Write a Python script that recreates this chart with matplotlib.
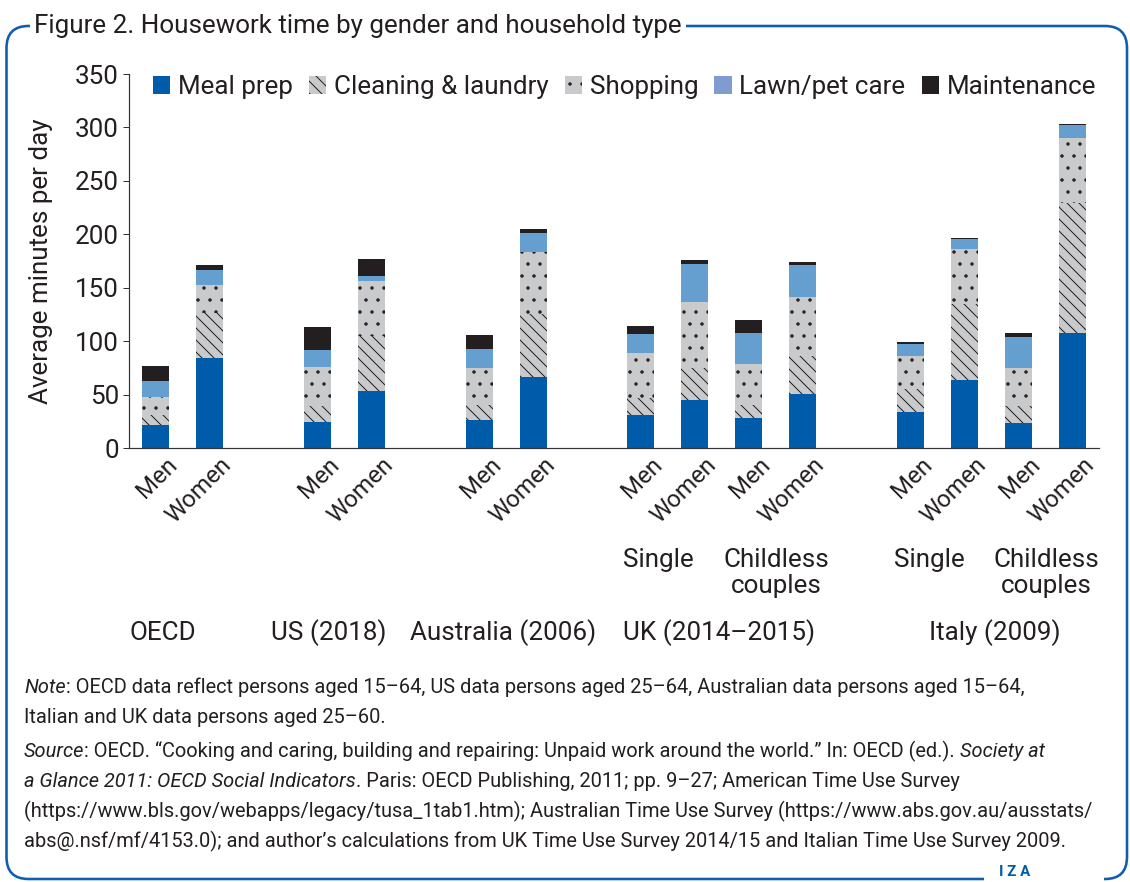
import matplotlib
matplotlib.use("Agg")
import matplotlib.pyplot as plt
from matplotlib.patches import Patch, FancyBboxPatch, Rectangle
from matplotlib.transforms import IdentityTransform
from matplotlib import font_manager
import numpy as np

# ---------------- data ----------------
bar_labels = ["Men", "Women", "Men", "Women", "Men", "Women",
              "Men", "Women", "Men", "Women",
              "Men", "Women", "Men", "Women"]
group_names = ["OECD", "US (2018)", "Australia (2006)", "UK (2014\u20132015)", "Italy (2009)"]
group_sizes = [2, 2, 2, 4, 4]
sub_labels = ["Single", "Childless\ncouples", "Single", "Childless\ncouples"]

series_names = ["Meal prep", "Cleaning & laundry", "Shopping", "Lawn/pet care", "Maintenance"]
meal_prep   = [21.5, 84, 24, 53, 26.5, 66, 31, 45, 28.5, 51, 34, 64, 23, 108]
cleaning    = [9.5, 42, 15, 52, 13.5, 59, 16, 30, 12, 35, 21.5, 70.5, 16, 121]
shopping    = [17, 27, 37, 51, 34.5, 58, 42, 61.5, 38, 55, 31, 51.5, 35.5, 61]
lawn_pet    = [15, 14, 15.5, 4.5, 18.5, 18, 18, 35.5, 29, 30, 10.5, 9.5, 29, 12]
maintenance = [14, 4, 21.5, 16, 13, 3.5, 7.5, 3.5, 12, 3.5, 2.5, 1, 4.5, 1]
yticks = [0, 50, 100, 150, 200, 250, 300, 350]

# ---------------- style ----------------
W, H, DPI = 1130, 882, 72

def pick_font(names):
    for n in names:
        try:
            font_manager.findfont(n, fallback_to_default=False)
            return n
        except Exception:
            pass
    return "DejaVu Sans"

FONT = pick_font(["Roboto", "Liberation Sans", "DejaVu Sans"])
plt.rcParams["font.family"] = [FONT, "DejaVu Sans"]
plt.rcParams["hatch.linewidth"] = 1.0
TXT = "#231f20"
BLUE = "#005baa"
GRAY = "#c9cacc"
LAWN = "#659fd0"
LAWN_LEG = "#7f9bd0"
BLACK = "#231f20"
FRAME = "#0f5fae"

fig = plt.figure(figsize=(W / DPI, H / DPI), dpi=DPI)
renderer = fig.canvas.get_renderer()

def fx(px):
    return px / W

def fy(py):
    return 1 - py / H

ax_left, ax_right, ax_top, ax_bottom = 129, 1099, 74, 448
ax = fig.add_axes([fx(ax_left), fy(ax_bottom), (ax_right - ax_left) / W, (ax_bottom - ax_top) / H])
ax.set_facecolor("none")

# bar positions from group structure (one empty slot between groups)
pos = []
start = 0
for g in group_sizes:
    pos.extend(range(start, start + g))
    start += g + 1
pos = np.array(pos, dtype=float)

styles = [
    dict(color=BLUE, edgecolor=BLUE, hatch=None),
    dict(color=GRAY, edgecolor=BLACK, hatch="\\\\"),
    dict(color=GRAY, edgecolor=BLACK, hatch="."),
    dict(color=LAWN, edgecolor=LAWN, hatch=None),
    dict(color=BLACK, edgecolor=BLACK, hatch=None),
]
values = [meal_prep, cleaning, shopping, lawn_pet, maintenance]
bottom = np.zeros(len(pos))
for name, vals, st in zip(series_names, values, styles):
    vals = np.array(vals, dtype=float)
    ax.bar(pos, vals, width=0.5, bottom=bottom, color=st["color"], edgecolor=st["edgecolor"],
           hatch=st["hatch"], linewidth=0, label=name, zorder=2)
    bottom += vals

ax.set_xlim(-0.5, start - 1 - 0.5)
ax.set_ylim(0, 350)
ax.set_yticks(yticks)
ax.tick_params(axis="y", labelsize=26, length=6, width=1, color="#333333", labelcolor=TXT, pad=4)
ax.set_xticks([])
for s in ["top", "right"]:
    ax.spines[s].set_visible(False)
for s in ["left", "bottom"]:
    ax.spines[s].set_color("#333333")
    ax.spines[s].set_linewidth(1.2)

fig.text(fx(41), fy(261), "Average minutes per day", rotation=90, ha="center", va="center",
         fontsize=26, color=TXT)

# rotated category labels
for x, lab in zip(pos, bar_labels):
    ax.annotate(lab, xy=(x, 0), xycoords=("data", "axes fraction"), xytext=(10, -5),
                textcoords="offset points", rotation=45, rotation_mode="anchor",
                ha="right", va="top", fontsize=24, color=TXT)

# sub-group labels (UK and Italy)
sub_x = [9.32, 11.52, 14.36, 16.52]
for x, lab in zip(sub_x, sub_labels):
    ax.annotate(lab, xy=(x, 0), xycoords=("data", "axes fraction"), xytext=(0, -(562 - 448) + 14),
                textcoords="offset points", ha="center", va="top", fontsize=26, color=TXT,
                linespacing=1.12)

grp_x = [0.13, 3.21, 6.44, 10.45, 15.57]
for x, lab in zip(grp_x, group_names):
    ax.annotate(lab, xy=(x, 0), xycoords=("data", "axes fraction"), xytext=(0, -(633 - 448)),
                textcoords="offset points", ha="center", va="center", fontsize=26, color=TXT)

# legend
handles = [
    Patch(facecolor=BLUE, edgecolor=BLUE, linewidth=0),
    Patch(facecolor=GRAY, edgecolor=BLACK, hatch="\\\\", linewidth=0),
    Patch(facecolor=GRAY, edgecolor=BLACK, hatch=".", linewidth=0),
    Patch(facecolor=LAWN_LEG, edgecolor=LAWN_LEG, linewidth=0),
    Patch(facecolor=BLACK, edgecolor=BLACK, linewidth=0),
]
leg = fig.legend(handles, series_names, loc="center left", bbox_to_anchor=(fx(153), fy(87)),
                 ncol=5, frameon=False, fontsize=26, handlelength=0.66, handleheight=0.66,
                 handletextpad=0.3, columnspacing=0.62, borderpad=0, borderaxespad=0)
for t in leg.get_texts():
    t.set_color(TXT)

# ---------------- frame, title, notes ----------------
frame = FancyBboxPatch((6.5, H - 879), 1127 - 6.5, 879 - 26,
                       boxstyle="round,pad=0,rounding_size=22", transform=IdentityTransform(),
                       facecolor="none", edgecolor=FRAME, linewidth=2.6, zorder=0.5)
fig.patches.append(frame)
fig.patches.append(Rectangle((984, H - 890), 1104 - 984, 20, transform=IdentityTransform(),
                             facecolor="white", edgecolor="none", zorder=1))

fig.text(fx(34), fy(26), "Figure 2. Housework time by gender and household type", ha="left",
         va="center", fontsize=26, color=TXT,
         bbox=dict(facecolor="white", edgecolor="none", pad=4), zorder=3)

fig.text(fx(1015), fy(872), "I Z A", ha="center", va="center", fontsize=15, color=BLUE,
         fontweight="bold", zorder=3)


def seg_width(s, **kw):
    t1 = fig.text(0, 0, "|" + s + "|", **kw)
    w1 = t1.get_window_extent(renderer).width
    t1.remove()
    t2 = fig.text(0, 0, "||", **kw)
    w2 = t2.get_window_extent(renderer).width
    t2.remove()
    return w1 - w2

NOTE_FS = 20
note_lines = [
    (686, [("Note", "italic"), (": OECD data reflect persons aged 15\u201364, US data persons aged 25\u201364, Australian data persons aged 15\u201364,", "normal")]),
    (716, [("Italian and UK data persons aged 25\u201360.", "normal")]),
    (750, [("Source", "italic"), (": OECD. \u201cCooking and caring, building and repairing: Unpaid work around the world.\u201d In: OECD (ed.). ", "normal"), ("Society at", "italic")]),
    (780, [("a Glance 2011: OECD Social Indicators", "italic"), (". Paris: OECD Publishing, 2011; pp. 9\u201327; American Time Use Survey", "normal")]),
    (810, [("(https://www.bls.gov/webapps/legacy/tusa_1tab1.htm); Australian Time Use Survey (https://www.abs.gov.au/ausstats/", "normal")]),
    (840, [("abs@.nsf/mf/4153.0); and author\u2019s calculations from UK Time Use Survey 2014/15 and Italian Time Use Survey 2009.", "normal")]),
]
for yc, segs in note_lines:
    x = 24.0
    for s, style in segs:
        kw = dict(fontsize=NOTE_FS, fontstyle=style, color=TXT)
        fig.text(fx(x), fy(yc + 0.36 * NOTE_FS), s, ha="left", va="baseline", **kw)
        x += seg_width(s, **kw)

fig.savefig("out.png", dpi=DPI, facecolor="white")
